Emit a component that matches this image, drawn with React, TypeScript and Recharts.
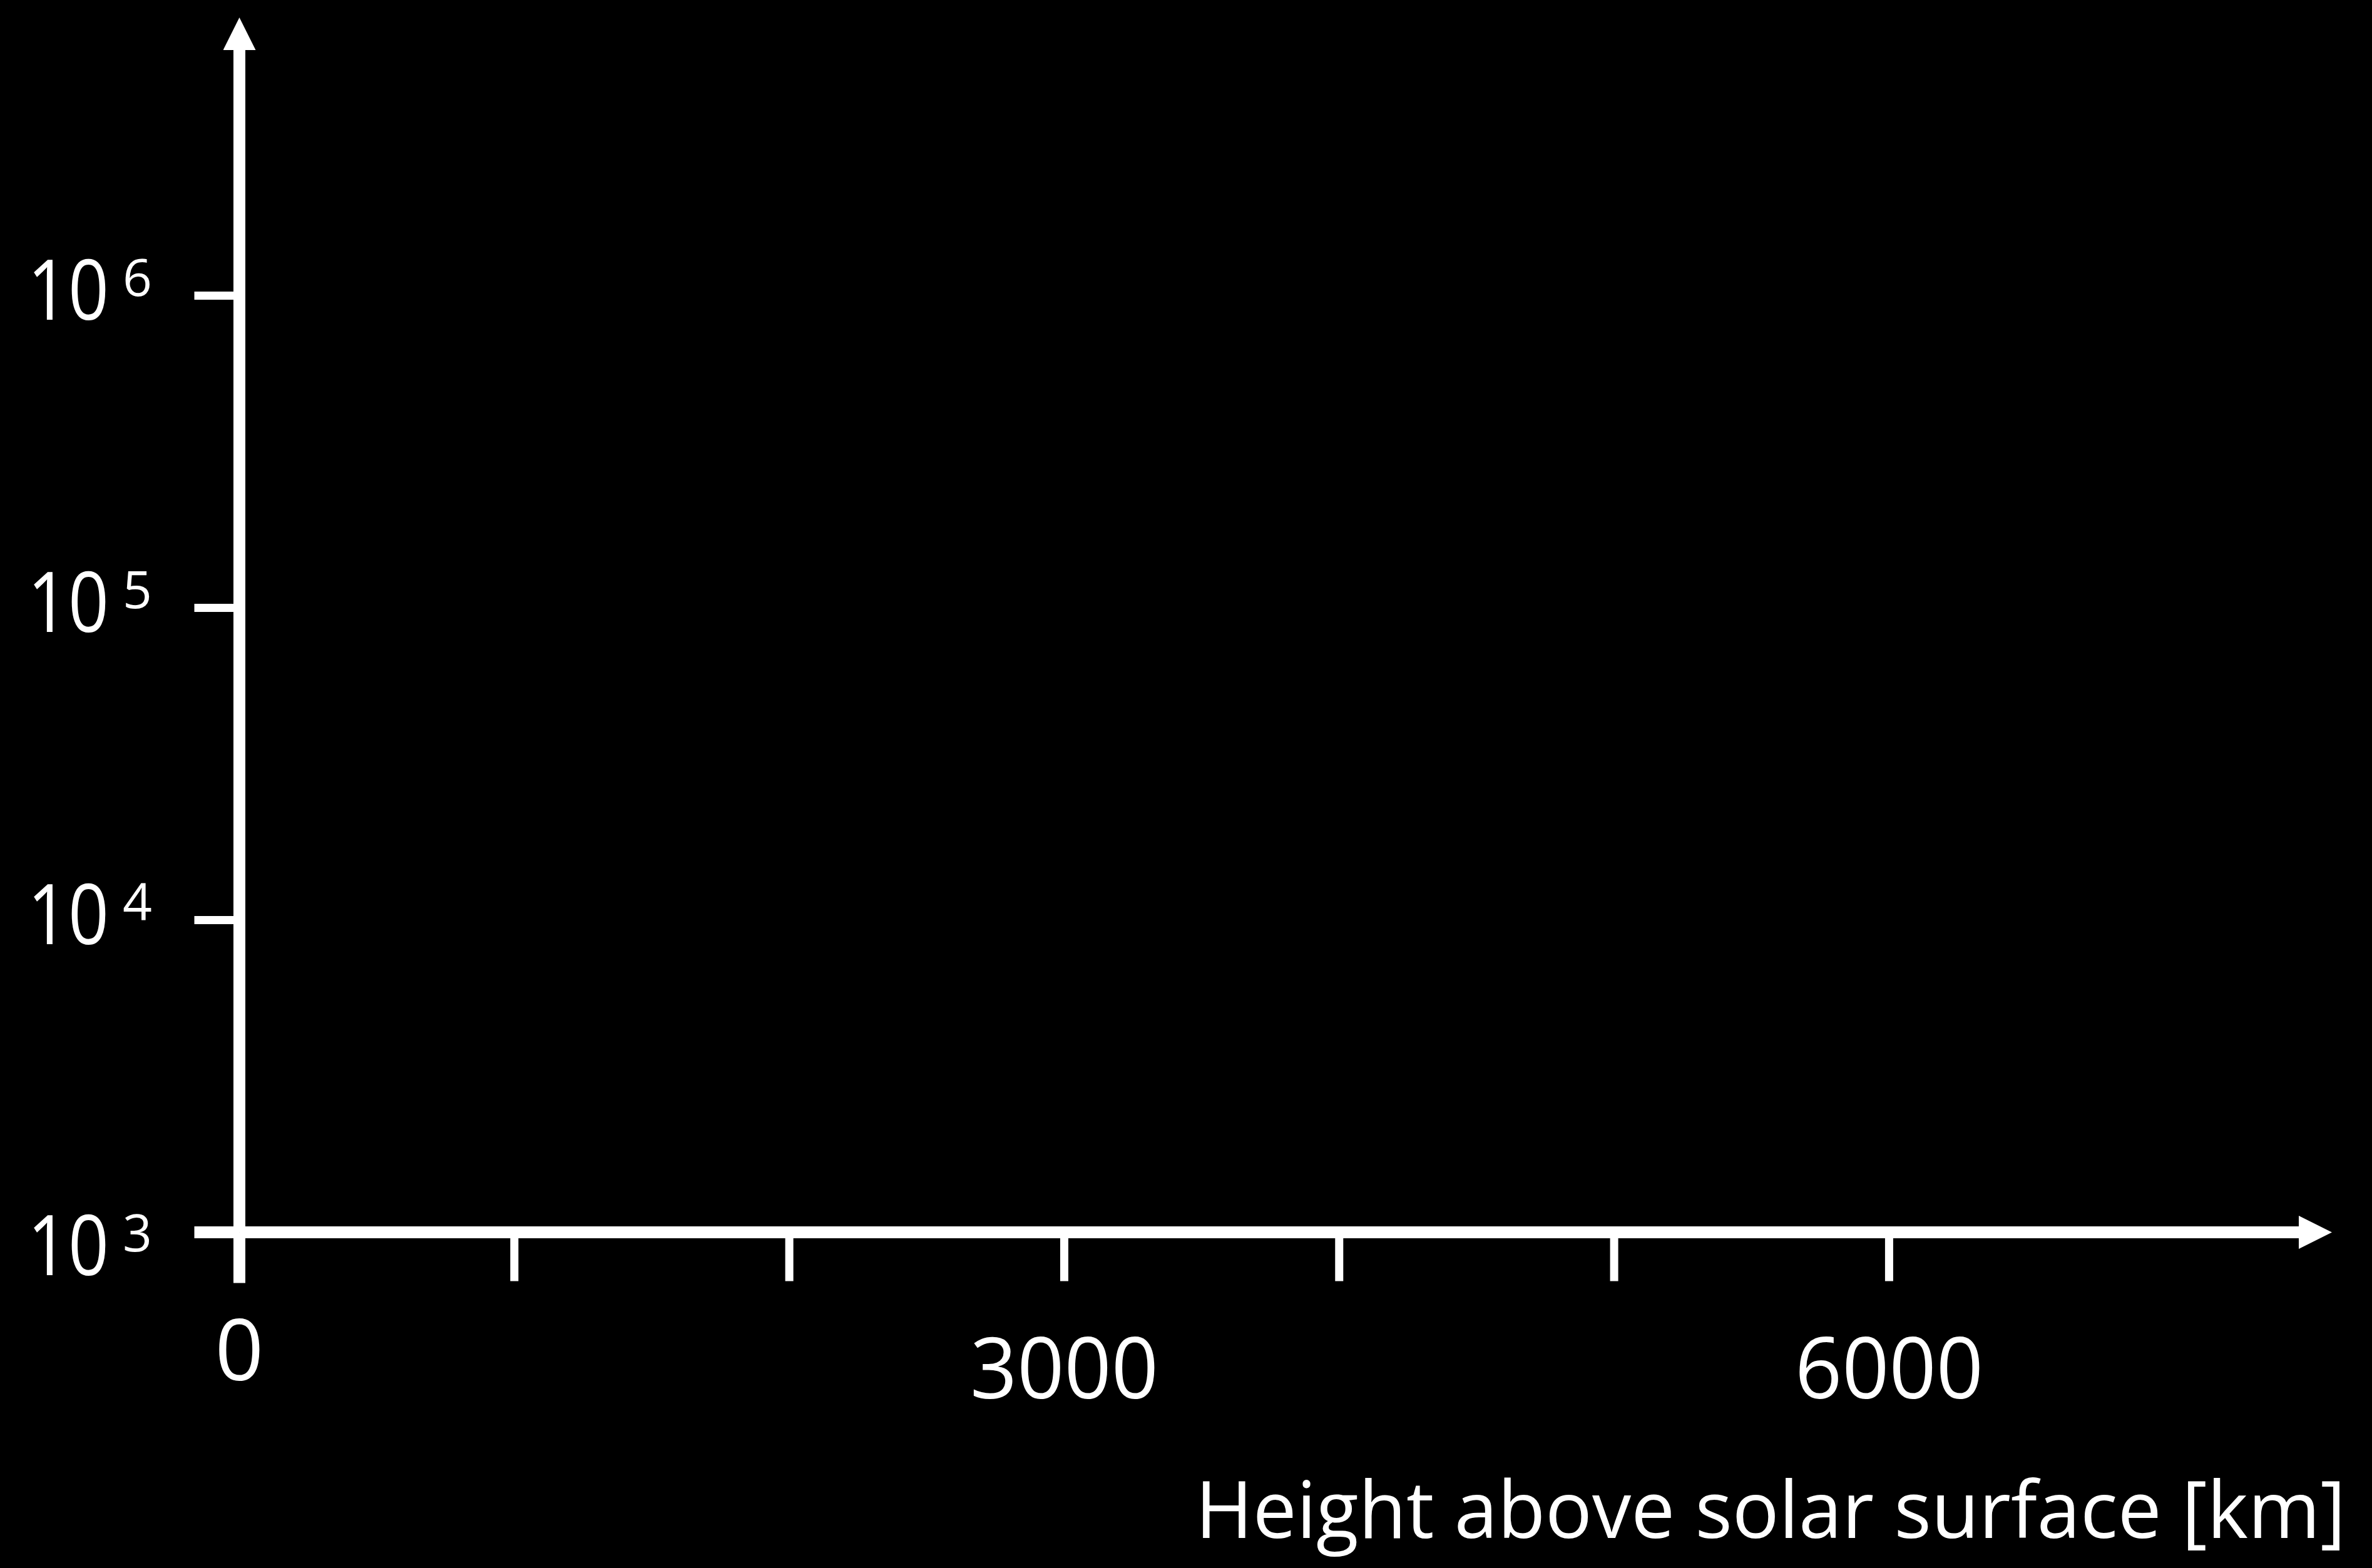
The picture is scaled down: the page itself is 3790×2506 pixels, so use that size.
import React from 'react';
import { ComposedChart, XAxis, YAxis, Label } from 'recharts';

// axis values
const xTicks = [0, 1000, 2000, 3000, 4000, 5000, 6000];
const xTickLabels: Record<number, string> = { 0: '0', 3000: '3000', 6000: '6000' };
const xDomain = [0, 7490];

const yTicks = [1e3, 1e4, 1e5, 1e6];
const yTickExponents = ['3', '4', '5', '6'];
const yDomain = [1e3, 6.12e6];

const xTitle = 'Height above solar surface [km]';

const FONT = '"Open Sans", "Noto Sans", sans-serif';
const WHITE = '#ffffff';
const Y_TICK_LEN = 72;
const X_TICK_LEN = 78;

const YTick = (props: any) => {
  const { x, y, payload } = props;
  const v = payload.value;
  const i = yTicks.indexOf(v);
  const axisX = x + Y_TICK_LEN;
  const first = i === 0;
  const base = first ? y + 68 : y + 38;
  return (
    <g>
      <line
        x1={axisX - Y_TICK_LEN}
        x2={axisX}
        y1={y}
        y2={y}
        stroke={WHITE}
        strokeWidth={first ? 19 : 13}
      />
      <text
        x={axisX - 338.5}
        y={base}
        fill={WHITE}
        fontFamily={FONT}
        fontSize={133}
        textLength={130}
        lengthAdjust="spacingAndGlyphs"
      >
        10
      </text>
      <text x={axisX - 186.5} y={base - 38} fill={WHITE} fontFamily={FONT} fontSize={82}>
        {yTickExponents[i]}
      </text>
    </g>
  );
};

const XTick = (props: any) => {
  const { x, y, payload } = props;
  const v = payload.value;
  const axisY = y - X_TICK_LEN;
  const label = xTickLabels[v];
  const origin = v === 0;
  return (
    <g>
      <line
        x1={x}
        x2={x}
        y1={axisY}
        y2={axisY + (origin ? 81 : X_TICK_LEN)}
        stroke={WHITE}
        strokeWidth={origin ? 19 : 13}
      />
      {label && (
        <text
          x={x}
          y={axisY + (origin ? 236.5 : 265)}
          fill={WHITE}
          textAnchor="middle"
          fontFamily={FONT}
          fontSize={136}
          textLength={label.length > 1 ? 301 : undefined}
          lengthAdjust="spacingAndGlyphs"
        >
          {label}
        </text>
      )}
    </g>
  );
};

const XTitle = (props: any) => {
  const vb = props.viewBox || {};
  const right = vb.x + vb.width;
  return (
    <text
      x={right - 1763}
      y={vb.y + 488.5}
      fill={WHITE}
      fontFamily={FONT}
      fontSize={126}
      textLength={1838}
      lengthAdjust="spacingAndGlyphs"
    >
      {xTitle}
    </text>
  );
};

export default function App() {
  return (
    <div style={{ position: 'fixed', left: 0, top: 0, width: 3790, height: 2506, background: '#000' }}>
      <ComposedChart
        width={3790}
        height={2506}
        data={[]}
        margin={{ top: 80, right: 117, bottom: 236.5, left: 82.5 }}
      >
        <defs>
          <marker
            id="arrowX"
            markerUnits="userSpaceOnUse"
            viewBox="0 0 53 53"
            markerWidth={53}
            markerHeight={53}
            refX={0}
            refY={26.5}
            orient="auto"
          >
            <path d="M0,0 L53,26.5 L0,53 Z" fill={WHITE} />
          </marker>
          <marker
            id="arrowY"
            markerUnits="userSpaceOnUse"
            viewBox="0 0 52 52"
            markerWidth={52}
            markerHeight={52}
            refX={0}
            refY={26}
            orient="auto-start-reverse"
          >
            <path d="M0,0 L52,26 L0,52 Z" fill={WHITE} />
          </marker>
        </defs>
        <XAxis
          type="number"
          dataKey="x"
          domain={xDomain}
          allowDataOverflow
          ticks={xTicks}
          interval={0}
          height={300}
          tickSize={X_TICK_LEN}
          tickMargin={0}
          tickLine={false}
          tick={<XTick />}
          axisLine={{ stroke: WHITE, strokeWidth: 19, markerEnd: 'url(#arrowX)' }}
        >
          <Label content={<XTitle />} />
        </XAxis>
        <YAxis
          type="number"
          scale="log"
          dataKey="y"
          domain={yDomain}
          allowDataOverflow
          ticks={yTicks}
          interval={0}
          width={300}
          tickSize={Y_TICK_LEN}
          tickMargin={0}
          tickLine={false}
          tick={<YTick />}
          axisLine={{ stroke: WHITE, strokeWidth: 19, markerStart: 'url(#arrowY)' }}
        />
      </ComposedChart>
    </div>
  );
}
